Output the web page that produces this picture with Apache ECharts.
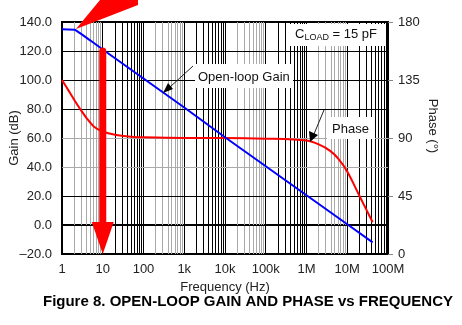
<!DOCTYPE html>
<html>
<head>
<meta charset="utf-8"/>
<title>Open-loop gain and phase</title>
<script src="https://cdn.jsdelivr.net/npm/echarts@6/dist/echarts.min.js"></script>
<style>
  html, body { margin: 0; padding: 0; background: #fff; }
  #chart { width: 462px; height: 325px; }
</style>
</head>
<body>
<div id="chart"></div>
<script>
// data
var gainFreq  = [1, 2.1, 3, 5, 10, 100, 1e3, 1e4, 1e5, 1e6, 1e7, 4.2e7];
var gainDb    = [135, 134.6, 131.6, 127.2, 121, 101, 81, 60.5, 40.5, 20.5, 0.5, -12];
var phaseFreq = [1, 1.5, 2, 3, 4, 6, 10, 20, 50, 100, 1e3, 1e4, 1e5, 1e6, 2e6, 3.8e6, 6e6, 1e7, 2e7, 4.2e7];
var phaseDeg  = [135, 126, 119.5, 111, 105.5, 99, 95, 92.5, 91, 90.5, 90, 90, 89.5, 88, 85, 80, 74, 64, 45, 24.6];
var freqLabels = ['1', '10', '100', '1k', '10k', '100k', '1M', '10M', '100M'];
var gainTicks  = [-20, 0, 20, 40, 60, 80, 100, 120, 140];
var grayGainLines = [40, 60];
var phaseTicks = [0, 45, 90, 135, 180];
var redArrow   = [[10, 120], [10, -4]];
var redArrowTip = [10, -20];

var font = "'Liberation Sans', Arial, sans-serif";
var chart = echarts.init(document.getElementById('chart'));

// vertical grid lines: [freq, gray?] decades black, minors alternate gray/black per decade
var vLines = [];
for (var k = 0; k < 8; k++) {
  if (k > 0) vLines.push([Math.pow(10, k), 0]);
  for (var m = 2; m <= 9; m++) vLines.push([m * Math.pow(10, k), k % 2 === 0 ? 1 : 0]);
}
var hLines = gainTicks.slice(1, -1).map(function (v) {
  return [v, grayGainLines.indexOf(v) >= 0 ? 1 : 0];
});
var yMin = gainTicks[0], yMax = gainTicks[gainTicks.length - 1];

function pairs(xs, ys) { return xs.map(function (x, i) { return [x, ys[i]]; }); }
function crisp(p) { return Math.floor(p) + 0.5; }

var option = {
  animation: false,
  backgroundColor: '#fff',
  textStyle: { fontFamily: font },
  grid: { left: 62, right: 74, top: 22, bottom: 71, outerBoundsMode: 'none', containLabel: false,
          show: true, borderColor: '#000', borderWidth: 2 },
  xAxis: {
    type: 'log', logBase: 10, min: 1, max: 1e8, splitNumber: 8,
    name: 'Frequency (Hz)', nameLocation: 'middle', nameGap: 26,
    nameTextStyle: { fontSize: 13, color: '#222', fontFamily: font },
    axisLine: { lineStyle: { color: '#000', width: 2 } },
    axisTick: { show: false },
    axisLabel: {
      fontSize: 13, color: '#222', margin: 9, fontFamily: font,
      formatter: function (v) { return freqLabels[Math.round(Math.log10(v))]; }
    },
    splitLine: { show: false }
  },
  yAxis: [{
    type: 'value', min: yMin, max: yMax, interval: 20,
    axisLine: { show: true, lineStyle: { color: '#000', width: 2 } },
    axisTick: { show: false },
    axisLabel: {
      fontSize: 13, color: '#222', margin: 10, fontFamily: font,
      formatter: function (v) { return (v < 0 ? '\u2013' + (-v).toFixed(1) : v.toFixed(1)); }
    },
    splitLine: { show: false }
  }, {
    type: 'value', position: 'right', min: phaseTicks[0], max: phaseTicks[phaseTicks.length - 1], interval: 45,
    axisLine: { show: true, lineStyle: { color: '#000', width: 2 } },
    axisTick: { show: true, length: 5, lineStyle: { color: '#888' } },
    axisLabel: { fontSize: 13, color: '#222', margin: 10, fontFamily: font },
    splitLine: { show: false }
  }],
  series: [{
    type: 'custom', silent: true, z: 1, data: vLines,
    renderItem: function (params, api) {
      var top = api.coord([api.value(0), yMax]);
      var bot = api.coord([api.value(0), yMin]);
      var x = crisp(top[0]);
      return { type: 'line', shape: { x1: x, y1: top[1], x2: x, y2: bot[1] },
               style: { stroke: api.value(1) ? '#aaa' : '#000', lineWidth: 1 } };
    }
  }, {
    type: 'custom', silent: true, z: 1, data: hLines.map(function (h) { return [1, h[0], h[1]]; }),
    renderItem: function (params, api) {
      var l = api.coord([1, api.value(1)]);
      var r = api.coord([1e8, api.value(1)]);
      var y = crisp(l[1]);
      return { type: 'line', shape: { x1: l[0], y1: y, x2: r[0], y2: y },
               style: { stroke: api.value(2) ? '#aaa' : '#000', lineWidth: 1 } };
    }
  }, {
    name: 'Phase', type: 'line', yAxisIndex: 1, data: pairs(phaseFreq, phaseDeg),
    smooth: 0.3, showSymbol: false, z: 3,
    lineStyle: { color: '#ff0000', width: 2 }
  }, {
    name: 'Open-loop Gain', type: 'line', data: pairs(gainFreq, gainDb),
    showSymbol: false, z: 4,
    lineStyle: { color: '#0000ff', width: 2 }
  }, {
    type: 'line', data: redArrow, showSymbol: false, z: 5,
    lineStyle: { color: '#ff0000', width: 7, cap: 'round' }
  }, {
    // arrow head, tip sits on the data point
    type: 'custom', silent: true, z: 6, data: [redArrowTip],
    renderItem: function (params, api) {
      var p = api.coord([api.value(0), api.value(1)]);
      return { type: 'polygon', shape: { points: [[p[0] - 11, p[1] - 32], [p[0] + 11, p[1] - 32], [p[0], p[1]]] },
               style: { fill: '#ff0000' } };
    }
  }],
  graphic: [
    // big red wedge at top left
    { type: 'polygon', z: 100, shape: { points: [[76, 29], [100, 0], [138, 0], [138, 5]] }, style: { fill: '#ff0000' } },
    // left axis name
    { type: 'text', z: 101, x: 14, y: 138, rotation: Math.PI / 2, style: {
        text: 'Gain (dB)', fontSize: 13, fill: '#222', align: 'center', verticalAlign: 'middle', fontFamily: font } },
    // C_LOAD box
    { type: 'rect', z: 100, shape: { x: 290, y: 24, width: 95, height: 22 }, style: { fill: '#fff' } },
    { type: 'text', z: 101, x: 295, y: 34, style: {
        text: '{a|C}{s|LOAD}{a| = 15 pF}', verticalAlign: 'middle', fontFamily: font,
        rich: { a: { fontSize: 13, fill: '#111', fontFamily: font }, s: { fontSize: 9, fill: '#111', padding: [8, 0, 0, 0], fontFamily: font } } } },
    // open-loop gain label
    { type: 'rect', z: 100, shape: { x: 195, y: 64, width: 98, height: 24 }, style: { fill: '#fff' } },
    { type: 'text', z: 101, x: 198, y: 77, style: { text: 'Open-loop Gain', fontSize: 13, fill: '#111', verticalAlign: 'middle', fontFamily: font } },
    { type: 'line', z: 101, shape: { x1: 193, y1: 66, x2: 170, y2: 87 }, style: { stroke: '#222', lineWidth: 1 } },
    { type: 'polygon', z: 101, shape: { points: [[163, 93], [173, 89], [168, 83]] }, style: { fill: '#000' } },
    // phase label
    { type: 'rect', z: 100, shape: { x: 327, y: 117, width: 48, height: 22 }, style: { fill: '#fff' } },
    { type: 'text', z: 101, x: 332, y: 129, style: { text: 'Phase', fontSize: 13, fill: '#111', verticalAlign: 'middle', fontFamily: font } },
    { type: 'line', z: 101, shape: { x1: 324, y1: 110, x2: 314, y2: 134 }, style: { stroke: '#222', lineWidth: 1 } },
    { type: 'polygon', z: 101, shape: { points: [[310, 142], [318, 135], [309, 131]] }, style: { fill: '#000' } },
    // right axis name
    { type: 'text', z: 101, x: 433, y: 126, rotation: -Math.PI / 2, style: {
        text: 'Phase (\u00b0)', fontSize: 13, fill: '#222', align: 'center', verticalAlign: 'middle', fontFamily: font } },
    // caption
    { type: 'text', z: 101, x: 248, y: 302, style: {
        text: 'Figure 8. OPEN-LOOP GAIN AND PHASE vs FREQUENCY', fontSize: 15, fontWeight: 'bold',
        fill: '#000', align: 'center', verticalAlign: 'middle', fontFamily: font } }
  ]
};
chart.setOption(option);
</script>
</body>
</html>
